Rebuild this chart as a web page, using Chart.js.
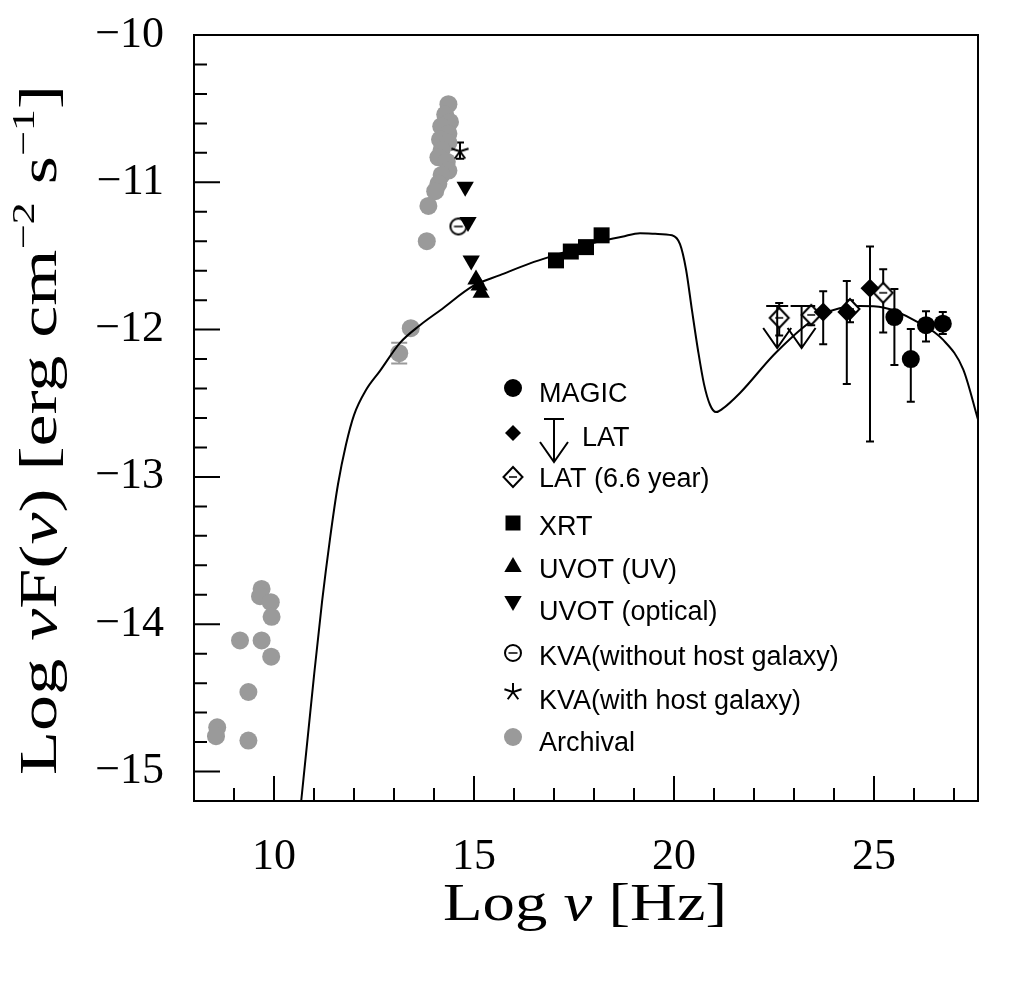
<!DOCTYPE html>
<html>
<head>
<meta charset="utf-8">
<title>SED</title>
<script src="https://cdn.jsdelivr.net/npm/chart.js@4.4.1/dist/chart.umd.min.js"></script>
<style>
  html, body { margin: 0; padding: 0; background: #fff; }
  canvas { display: block; }
</style>
</head>
<body>
<canvas id="sedChart" width="1023" height="994"></canvas>
<script>
// axis ranges and tick labels
var xMin = 8, xMax = 27.6;
var yMin = -15.2, yMax = -10;
var xTicks = [10, 15, 20, 25];
var yTicks = [-15, -14, -13, -12, -11, -10];

// MAGIC
var magicX = [25.51, 25.92, 26.30, 26.72];
var magicY = [-11.915, -12.20, -11.97, -11.96];
var magicHi = [-11.725, -11.995, -11.875, -11.88];
var magicLo = [-12.24, -12.49, -12.08, -12.03];

// LAT
var latX = [23.73, 24.32, 24.90];
var latY = [-11.88, -11.88, -11.72];
var latHi = [-11.74, -11.67, -11.435];
var latLo = [-12.10, -12.37, -12.76];
var latUlX = [22.58, 23.19];
var latUlY = [-11.84, -11.84];

// LAT (6.6 year)
var lat66X = [22.63, 23.43, 24.40, 25.23];
var lat66Y = [-11.92, -11.90, -11.86, -11.75];
var lat66Hi = [-11.82, -11.84, -11.80, -11.59];
var lat66Lo = [-12.04, -11.97, -11.95, -12.02];

// XRT
var xrtX = [17.05, 17.42, 17.80, 18.19];
var xrtY = [-11.53, -11.47, -11.44, -11.36];

// UVOT
var uvX = [15.05, 15.13, 15.18];
var uvY = [-11.66, -11.70, -11.75];
var optX = [14.78, 14.85, 14.93];
var optY = [-11.03, -11.27, -11.53];

// KVA
var kvaNoX = [14.61];
var kvaNoY = [-11.30];
var kvaNoHi = [-11.25];
var kvaNoLo = [-11.35];
var kvaHostX = [14.65];
var kvaHostY = [-10.79];
var kvaHostHi = [-10.73];
var kvaHostLo = [-10.84];

// archival
var archX = [9.69, 9.65, 9.92, 9.94, 9.15, 9.69, 9.93, 9.36, 8.58, 8.55, 9.36,
             13.42, 13.13,
             14.36, 14.28, 14.40, 14.18, 14.36, 14.15, 14.36, 14.19, 14.11, 14.32,
             14.36, 14.19, 14.11, 14.03, 13.86, 13.82];
var archY = [-13.76, -13.81, -13.85, -13.95, -14.11, -14.11, -14.22, -14.46, -14.70, -14.76, -14.79,
             -11.99, -12.16,
             -10.47, -10.54, -10.59, -10.62, -10.67, -10.71, -10.73, -10.78, -10.83, -10.86,
             -10.92, -10.95, -11.01, -11.06, -11.16, -11.40];
var archErrX = [13.13];
var archErrHi = [-12.09];
var archErrLo = [-12.23];

// model curve
var modelX = [10.68, 10.85, 11.0, 11.2, 11.4, 11.6, 11.8, 12.0, 12.3, 12.65, 13.15, 13.65, 14.15, 15.0, 15.65,
              16.4, 17.2, 18.0, 18.7, 19.15, 19.53, 19.95, 20.15, 20.3, 20.45, 20.6, 20.75, 20.9,
              21.05, 21.2, 21.65, 22.57, 23.69, 24.65, 25.23, 26.07, 26.73, 27.23, 27.6];
var modelY = [-15.2, -14.75, -14.35, -13.85, -13.42, -13.05, -12.78, -12.58, -12.41, -12.28, -12.09, -11.97, -11.87, -11.70, -11.63,
              -11.55, -11.48, -11.41, -11.37, -11.345, -11.35, -11.36, -11.42, -11.59, -11.87, -12.14, -12.37, -12.51,
              -12.56, -12.54, -12.43, -12.15, -11.90, -11.84, -11.85, -11.945, -12.07, -12.27, -12.61];

var legendLabels = ['MAGIC', 'LAT', 'LAT (6.6 year)', 'XRT', 'UVOT (UV)', 'UVOT (optical)',
                    'KVA(without host galaxy)', 'KVA(with host galaxy)', 'Archival'];

var grey = '#9a9a9a';
var serif = '"Liberation Serif", "Times New Roman", serif';
var sans = '"Liberation Sans", Arial, sans-serif';

function pts(xs, ys) {
    return xs.map(function (x, i) { return {x: x, y: ys[i]}; });
}

// little canvases for the symbols chart.js does not have
function symbolCanvas(kind) {
    var c = document.createElement('canvas');
    c.width = 28; c.height = 28;
    var g = c.getContext('2d');
    var m = 14;
    g.strokeStyle = '#000';
    g.fillStyle = '#fff';
    g.lineWidth = 2;
    if (kind === 'odiamond') {
        g.beginPath();
        g.moveTo(m, m - 10); g.lineTo(m + 9.5, m); g.lineTo(m, m + 10); g.lineTo(m - 9.5, m);
        g.closePath(); g.fill(); g.stroke();
        g.lineWidth = 1.5;
        g.beginPath(); g.moveTo(m - 4, m); g.lineTo(m + 4, m); g.stroke();
    } else if (kind === 'ocircle') {
        g.beginPath(); g.arc(m, m, 8, 0, Math.PI * 2); g.fill(); g.stroke();
        g.lineWidth = 1.5;
        g.beginPath(); g.moveTo(m - 4.5, m); g.lineTo(m + 4.5, m); g.stroke();
    } else if (kind === 'star') {
        g.beginPath();
        for (var k = 0; k < 5; k++) {
            var a = -Math.PI / 2 + k * 2 * Math.PI / 5;
            g.moveTo(m, m);
            g.lineTo(m + 9 * Math.cos(a), m + 9 * Math.sin(a));
        }
        g.stroke();
    }
    return c;
}
var oDiamond = symbolCanvas('odiamond');
var oCircle = symbolCanvas('ocircle');
var star = symbolCanvas('star');

var errorSets = [
    {x: magicX, hi: magicHi, lo: magicLo, color: '#000', cap: 4},
    {x: latX, hi: latHi, lo: latLo, color: '#000', cap: 4},
    {x: lat66X, hi: lat66Hi, lo: lat66Lo, color: '#000', cap: 4},
    {x: kvaNoX, hi: kvaNoHi, lo: kvaNoLo, color: '#000', cap: 0},
    {x: kvaHostX, hi: kvaHostHi, lo: kvaHostLo, color: '#000', cap: 4},
    {x: archErrX, hi: archErrHi, lo: archErrLo, color: grey, cap: 8}
];

function drawSymbol(ctx, kind, x, y) {
    ctx.save();
    ctx.fillStyle = '#000';
    ctx.beginPath();
    if (kind === 'circle' || kind === 'gcircle') {
        if (kind === 'gcircle') ctx.fillStyle = grey;
        ctx.arc(x, y, 9, 0, Math.PI * 2); ctx.fill();
    } else if (kind === 'diamond') {
        ctx.moveTo(x, y - 8); ctx.lineTo(x + 8, y); ctx.lineTo(x, y + 8); ctx.lineTo(x - 8, y);
        ctx.closePath(); ctx.fill();
    } else if (kind === 'square') {
        ctx.rect(x - 7.5, y - 7.5, 15, 15); ctx.fill();
    } else if (kind === 'tri') {
        ctx.moveTo(x, y - 10); ctx.lineTo(x + 8.7, y + 5); ctx.lineTo(x - 8.7, y + 5);
        ctx.closePath(); ctx.fill();
    } else if (kind === 'itri') {
        ctx.moveTo(x, y + 10); ctx.lineTo(x + 8.7, y - 5); ctx.lineTo(x - 8.7, y - 5);
        ctx.closePath(); ctx.fill();
    } else if (kind === 'odiamond') {
        ctx.drawImage(oDiamond, x - 14, y - 14);
    } else if (kind === 'ocircle') {
        ctx.drawImage(oCircle, x - 14, y - 14);
    } else if (kind === 'star') {
        ctx.drawImage(star, x - 14, y - 14);
    }
    ctx.restore();
}

function drawArrow(ctx, x, y, capW, len) {
    ctx.beginPath();
    ctx.moveTo(x - capW, y); ctx.lineTo(x + capW, y);
    ctx.moveTo(x, y); ctx.lineTo(x, y + len);
    ctx.moveTo(x - 14, y + len - 20); ctx.lineTo(x, y + len); ctx.lineTo(x + 14, y + len - 20);
    ctx.stroke();
}

// text with italic / superscript pieces
function fontFor(style, size) {
    if (style === 'i') return 'italic ' + size + 'px ' + serif;
    if (style === 's') return Math.round(size * 0.62) + 'px ' + serif;
    return size + 'px ' + serif;
}
function richWidth(ctx, parts, size) {
    var w = 0;
    parts.forEach(function (p) {
        ctx.font = fontFor(p[1], size);
        w += ctx.measureText(p[0]).width;
    });
    return w;
}
function drawRich(ctx, parts, size, x, y) {
    parts.forEach(function (p) {
        ctx.font = fontFor(p[1], size);
        ctx.fillText(p[0], x, p[1] === 's' ? y - size * 0.42 : y);
        x += ctx.measureText(p[0]).width;
    });
}

var xTitle = [['Log ', 'r'], ['\u03bd', 'i'], [' [Hz]', 'r']];
var yTitle = [['Log ', 'r'], ['\u03bd', 'i'], ['F(', 'r'], ['\u03bd', 'i'], [') [erg cm', 'r'],
              ['\u22122', 's'], [' s', 'r'], ['\u22121', 's'], [']', 'r']];

var framePlugin = {
    id: 'framePlugin',
    beforeDatasetsDraw: function (chart) {
        var ctx = chart.ctx, xs = chart.scales.x, ys = chart.scales.y;
        ctx.save();
        ctx.lineWidth = 2;
        errorSets.forEach(function (s) {
            ctx.strokeStyle = s.color;
            s.x.forEach(function (v, i) {
                var px = xs.getPixelForValue(v);
                var a = ys.getPixelForValue(s.hi[i]), b = ys.getPixelForValue(s.lo[i]);
                ctx.beginPath();
                ctx.moveTo(px, a); ctx.lineTo(px, b);
                if (s.cap) {
                    ctx.moveTo(px - s.cap, a); ctx.lineTo(px + s.cap, a);
                    ctx.moveTo(px - s.cap, b); ctx.lineTo(px + s.cap, b);
                }
                ctx.stroke();
            });
        });
        ctx.restore();
    },
    afterDatasetsDraw: function (chart) {
        var ctx = chart.ctx, xs = chart.scales.x, ys = chart.scales.y, a = chart.chartArea;
        ctx.save();
        ctx.strokeStyle = '#000';
        ctx.lineWidth = 2;
        // upper limits
        latUlX.forEach(function (v, i) {
            drawArrow(ctx, xs.getPixelForValue(v), ys.getPixelForValue(latUlY[i]), 11, 42);
        });
        // box
        ctx.strokeRect(a.left, a.top, a.right - a.left, a.bottom - a.top);
        // ticks pointing inwards
        ctx.beginPath();
        for (var t = 8; t <= 27; t++) {
            var px = xs.getPixelForValue(t);
            var len = (t % 5 === 0) ? 25 : 13;
            ctx.moveTo(px, a.bottom); ctx.lineTo(px, a.bottom - len);
        }
        for (var k = 0; k <= 26; k++) {
            var v = -15.2 + k * 0.2;
            var py = ys.getPixelForValue(v);
            var l2 = (Math.abs(v - Math.round(v)) < 1e-6) ? 26 : 13;
            ctx.moveTo(a.left, py); ctx.lineTo(a.left + l2, py);
        }
        ctx.stroke();
        ctx.restore();
    },
    afterDraw: function (chart) {
        var ctx = chart.ctx;
        ctx.save();
        ctx.fillStyle = '#000';
        ctx.textBaseline = 'alphabetic';
        // x title
        var w = richWidth(ctx, xTitle, 52);
        ctx.save();
        ctx.translate(585, 920);
        ctx.scale(284 / w, 1);
        drawRich(ctx, xTitle, 52, -w / 2, 0);
        ctx.restore();
        // y title
        var wy = richWidth(ctx, yTitle, 52);
        ctx.save();
        ctx.translate(56, 430);
        ctx.rotate(-Math.PI / 2);
        ctx.scale(690 / wy, 1);
        drawRich(ctx, yTitle, 52, -wy / 2, 0);
        ctx.restore();

        // legend
        var kinds = ['circle', 'diamond', 'odiamond', 'square', 'tri', 'itri', 'ocircle', 'star', 'gcircle'];
        var symY = [388, 433, 477, 523, 567, 601, 653, 692, 737];
        var txtY = [395, 439, 480, 528, 571, 613, 658, 702, 744];
        ctx.font = '27px ' + sans;
        ctx.textBaseline = 'middle';
        ctx.lineWidth = 2;
        ctx.strokeStyle = '#000';
        kinds.forEach(function (kd, i) {
            drawSymbol(ctx, kd, 513, symY[i]);
            var tx = 539;
            if (i === 1) {
                drawArrow(ctx, 554, 419, 10, 43);
                tx = 582;
            }
            ctx.fillText(legendLabels[i], tx, txtY[i]);
        });
        ctx.restore();
    }
};

function noPad(s) {
    s.paddingTop = 0; s.paddingBottom = 0; s.paddingLeft = 0; s.paddingRight = 0;
}

new Chart(document.getElementById('sedChart').getContext('2d'), {
    type: 'scatter',
    data: {
        datasets: [
            {label: 'KVA(with host galaxy)', data: pts(kvaHostX, kvaHostY), pointStyle: star, order: 1},
            {label: 'UVOT (optical)', data: pts(optX, optY), pointStyle: 'triangle', rotation: 180,
             pointRadius: 10, backgroundColor: '#000', borderWidth: 0, order: 2},
            {label: 'KVA(without host galaxy)', data: pts(kvaNoX, kvaNoY), pointStyle: oCircle, order: 3},
            {label: 'UVOT (UV)', data: pts(uvX, uvY), pointStyle: 'triangle',
             pointRadius: 10, backgroundColor: '#000', borderWidth: 0, order: 4},
            {label: 'XRT', data: pts(xrtX, xrtY), pointStyle: 'rect',
             pointRadius: 11.3, backgroundColor: '#000', borderWidth: 0, order: 5},
            {label: 'MAGIC', data: pts(magicX, magicY), pointStyle: 'circle',
             pointRadius: 9, backgroundColor: '#000', borderWidth: 0, order: 6},
            {label: 'LAT', data: pts(latX, latY), pointStyle: 'rectRot',
             pointRadius: 9.5, backgroundColor: '#000', borderWidth: 0, order: 7},
            {label: 'LAT (6.6 year)', data: pts(lat66X, lat66Y), pointStyle: oDiamond, order: 8},
            {label: 'model', data: pts(modelX, modelY), showLine: true, pointRadius: 0,
             borderColor: '#000', borderWidth: 2, cubicInterpolationMode: 'monotone', order: 9},
            {label: 'Archival', data: pts(archX, archY), pointStyle: 'circle',
             pointRadius: 9, backgroundColor: grey, borderWidth: 0, order: 10}
        ]
    },
    options: {
        responsive: false,
        animation: false,
        layout: {padding: {top: 35, right: 45, left: 0, bottom: 0}},
        plugins: {legend: {display: false}, tooltip: {enabled: false}, title: {display: false}},
        scales: {
            x: {
                type: 'linear', min: xMin, max: xMax,
                grid: {display: false}, border: {display: false},
                afterBuildTicks: function (s) { s.ticks = xTicks.map(function (v) { return {value: v}; }); },
                afterFit: function (s) { s.height = 193; noPad(s); },
                ticks: {color: '#000', padding: 22, maxRotation: 0, autoSkip: false,
                        font: {family: serif, size: 44},
                        callback: function (v) { return String(v); }}
            },
            y: {
                type: 'linear', min: yMin, max: yMax,
                grid: {display: false}, border: {display: false},
                afterBuildTicks: function (s) { s.ticks = yTicks.map(function (v) { return {value: v}; }); },
                afterFit: function (s) { s.width = 194; noPad(s); },
                ticks: {color: '#000', padding: 22, autoSkip: false,
                        font: {family: serif, size: 44},
                        callback: function (v) { return (v < 0 ? '\u2212' : '') + Math.abs(v); }}
            }
        }
    },
    plugins: [framePlugin]
});
</script>
</body>
</html>
